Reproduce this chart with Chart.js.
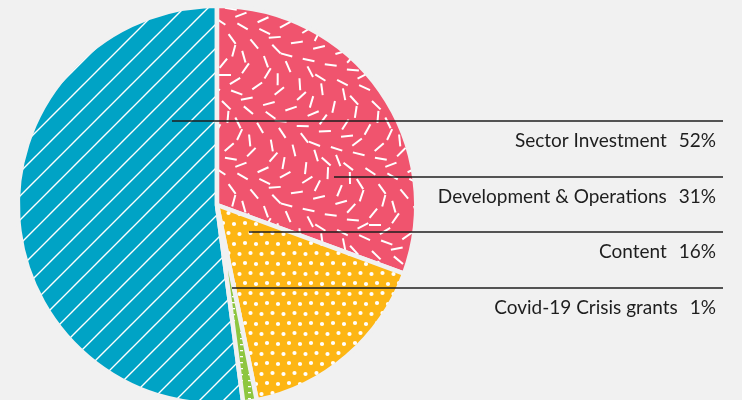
<!DOCTYPE html>
<html>
<head>
<meta charset="utf-8">
<script src="https://cdn.jsdelivr.net/npm/chart.js@4"></script>
<style>
html,body{margin:0;padding:0;background:#f1f1f1;overflow:hidden;width:742px;height:400px;}
#wrap{position:absolute;left:0;top:0;width:742px;height:410px;}
</style>
</head>
<body>
<div id="wrap"><canvas id="c"></canvas></div>
<script>
// ---- data ----
const categories = ['Sector Investment', 'Development & Operations', 'Content', 'Covid-19 Crisis grants'];
const values = [52.1, 30.6, 16.2, 1.1];
const percentLabels = ['52%', '31%', '16%', '1%'];

// ---- styles / layout ----
const BG = '#f1f1f1';
const baseColors = ['#00a3c5', '#f0546e', '#fdb614', '#8dc63f'];
const leaderY = [121, 177, 232, 288];
const leaderX0 = [172, 334, 249, 232];
const leaderX1 = 723;
const textRight = 716;
const FONT = '19px Lato';

function makeTile(w, h, draw) {
  const c = document.createElement('canvas');
  c.width = w; c.height = h;
  const g = c.getContext('2d');
  draw(g, w, h);
  return g.createPattern(c, 'repeat');
}

const ctxMain = document.getElementById('c').getContext('2d');

const stripes = makeTile(24, 24, (g, w, h) => {
  g.fillStyle = baseColors[0]; g.fillRect(0, 0, w, h);
  g.strokeStyle = '#ffffff'; g.lineWidth = 1.4;
  g.beginPath();
  g.moveTo(-2, h + 2); g.lineTo(w + 2, -2);
  g.moveTo(-2, 2); g.lineTo(2, -2);
  g.moveTo(w - 2, h + 2); g.lineTo(w + 2, h - 2);
  g.stroke();
});

// decorative sprinkle texture: evenly spread (R2 low-discrepancy) short dashes
const sprinkles = makeTile(150, 150, (g, w, h) => {
  g.fillStyle = baseColors[1]; g.fillRect(0, 0, w, h);
  g.strokeStyle = '#ffffff'; g.lineWidth = 2; g.lineCap = 'butt';
  const N = 88;
  for (let k = 0; k < N; k++) {
    const x = ((0.5 + k * 0.7548776662) % 1) * w;
    const y = ((0.5 + k * 0.5698402910) % 1) * h;
    const a = (((k * 0.381966) % 1) * 180) * Math.PI / 180;
    const L = 6;
    for (const ox of [-w, 0, w]) for (const oy of [-h, 0, h]) {
      g.beginPath();
      g.moveTo(x + ox - Math.cos(a) * L, y + oy - Math.sin(a) * L);
      g.lineTo(x + ox + Math.cos(a) * L, y + oy + Math.sin(a) * L);
      g.stroke();
    }
  }
});

const dots = makeTile(22, 20, (g, w, h) => {
  g.fillStyle = baseColors[2]; g.fillRect(0, 0, w, h);
  g.fillStyle = '#ffffff';
  for (const [x, y] of [[3, 3], [14, 4], [8.5, 13], [19.5, 14]]) {
    g.beginPath(); g.arc(x, y, 2.1, 0, Math.PI * 2); g.fill();
  }
});

const ticks = makeTile(8, 6, (g, w, h) => {
  g.fillStyle = baseColors[3]; g.fillRect(0, 0, w, h);
  g.fillStyle = '#ffffff';
  g.fillRect(0, 2, 3, 1.3);
});

const patterns = [stripes, sprinkles, dots, ticks];
const total = values.reduce((a, b) => a + b, 0);

const labelPlugin = {
  id: 'leaderLabels',
  afterDraw(chart) {
    const g = chart.ctx;
    g.save();
    g.strokeStyle = '#1e1e1e';
    g.lineWidth = 1.3;
    g.font = FONT;
    g.fillStyle = '#1e1e1e';
    g.textBaseline = 'alphabetic';
    categories.forEach((name, i) => {
      g.beginPath();
      g.moveTo(leaderX0[i], leaderY[i]);
      g.lineTo(leaderX1, leaderY[i]);
      g.stroke();
      g.textAlign = 'right';
      const pct = percentLabels[i];
      g.fillText(pct, textRight, leaderY[i] + 26);
      const pw = g.measureText(pct).width;
      g.fillText(name, textRight - pw - 12, leaderY[i] + 26);
    });
    g.restore();
  }
};

new Chart(ctxMain, {
  type: 'pie',
  data: {
    labels: categories,
    datasets: [{
      data: values,
      backgroundColor: patterns,
      hoverBackgroundColor: patterns,
      borderColor: BG,
      hoverBorderColor: BG,
      borderWidth: 4.5,
      hoverBorderWidth: 4.5,
      hoverOffset: 0,
      borderAlign: 'center'
    }]
  },
  options: {
    responsive: true,
    maintainAspectRatio: false,
    animation: false,
    events: [],
    rotation: 360 * (1 - values[0] / total),
    layout: { padding: { left: 15.5, right: 323.5, top: 3.5, bottom: 3.5 } },
    plugins: { legend: { display: false }, tooltip: { enabled: false } }
  },
  plugins: [labelPlugin]
});
</script>
</body>
</html>
